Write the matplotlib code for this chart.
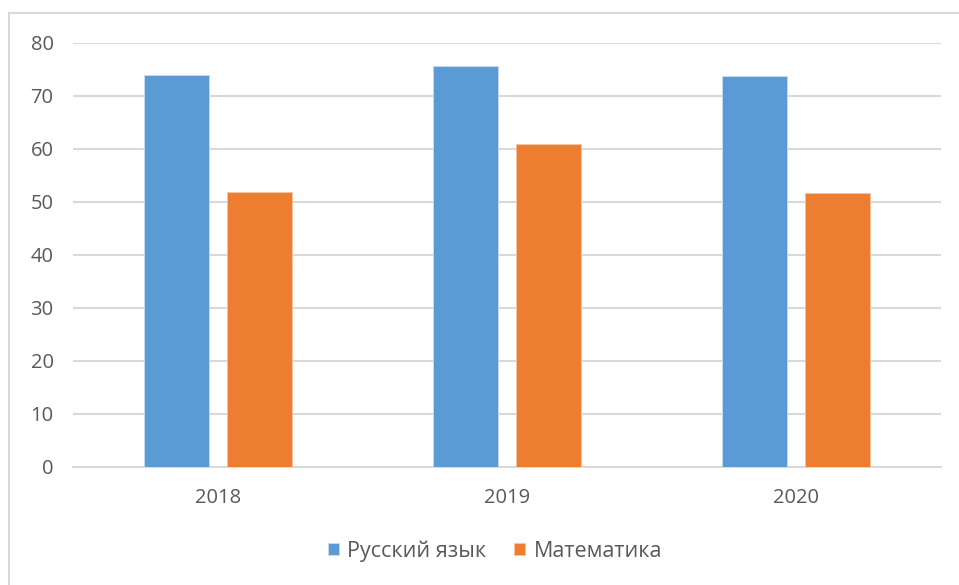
import matplotlib
matplotlib.use("Agg")
import matplotlib.pyplot as plt
import numpy as np
from matplotlib.patches import Rectangle

years = ["2018", "2019", "2020"]
russian = [73.9, 75.6, 73.6]
math_vals = [51.9, 60.8, 51.6]
series_names = ["Русский язык", "Математика"]
yticks = [0, 10, 20, 30, 40, 50, 60, 70, 80]

plt.rcParams['font.family'] = ['Open Sans', 'DejaVu Sans']

W, H = 959, 585
fig = plt.figure(figsize=(W / 100, H / 100), dpi=100)
fig.patch.set_facecolor("white")

# outer chart frame
fig.patches.append(Rectangle((9 / W, -0.05), 1.0, 1 - 13 / H + 0.05,
                             transform=fig.transFigure, fill=False,
                             edgecolor="#d9d9d9", linewidth=1.5))

ax = fig.add_axes([73 / W, 1 - 467 / H, (941 - 73) / W, (467 - 42.5) / H])
x = np.arange(len(years))
w = 0.225
off = 0.1435
ax.bar(x - off, russian, w, color="#5B9BD5", edgecolor="#c9ddf1", linewidth=0.6,
       label=series_names[0], zorder=3)
ax.bar(x + off, math_vals, w, color="#ED7D31", edgecolor="#f5c3a0", linewidth=0.6,
       label=series_names[1], zorder=3)

ax.set_xlim(-0.5, 2.5)
ax.set_ylim(0, 80)
ax.set_yticks(yticks)
ax.set_xticks(x)
ax.set_xticklabels(years)
ax.grid(axis="y", color="#d9d9d9", linewidth=1.5, zorder=0)
for s in ["top", "right", "left"]:
    ax.spines[s].set_visible(False)
ax.spines["bottom"].set_color("#d9d9d9")
ax.spines["bottom"].set_linewidth(1.5)
ax.tick_params(axis="both", length=0, colors="#595959", labelsize=14.5)
ax.tick_params(axis="y", pad=14)
ax.tick_params(axis="x", pad=15)

leg = fig.legend(loc="center", bbox_to_anchor=(495 / W, 1 - 551 / H), ncol=2,
                 frameon=False, fontsize=15.5, handlelength=0.5, handleheight=0.5,
                 handletextpad=0.4, columnspacing=1.3)
for t in leg.get_texts():
    t.set_color("#595959")

fig.savefig("out.png", dpi=100)
